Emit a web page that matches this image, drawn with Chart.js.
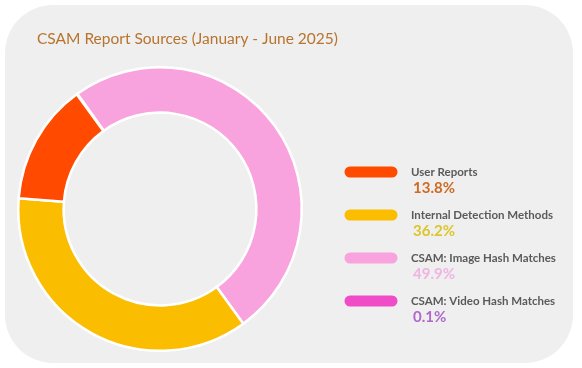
<!DOCTYPE html>
<html>
<head>
<meta charset="utf-8">
<script src="https://cdn.jsdelivr.net/npm/chart.js@4.4.1/dist/chart.umd.min.js"></script>
<style>
  html, body { margin: 0; padding: 0; background: #ffffff; }
  #wrap { position: relative; width: 582px; height: 368px; }
  #panel {
    position: absolute; left: 5px; top: 5px; width: 568px; height: 358px;
    background: #efefef; border-radius: 48px;
  }
  #box { position: absolute; left: 0; top: 0; width: 582px; height: 368px; }
</style>
</head>
<body>
<div id="wrap">
  <div id="panel"></div>
  <div id="box"><canvas id="donutCanvas"></canvas></div>
</div>
<script>
// chart data
const title = 'CSAM Report Sources (January - June 2025)';
const labels = ['User Reports', 'Internal Detection Methods', 'CSAM: Image Hash Matches', 'CSAM: Video Hash Matches'];
const shares = [13.8, 36.2, 49.9, 0.1];
const sliceColors = ['#ff4a00', '#fbbd00', '#f9a3de', '#f04cc8'];
const pctColors = ['#cf6a22', '#ddc52a', '#f0b3e2', '#b068cc'];

// slices run counter-clockwise in legend order, so feed them reversed
const revIdx = labels.map((_, i) => labels.length - 1 - i);

// legend + title drawn straight on the canvas
const sideLegend = {
  id: 'sideLegend',
  afterDraw: (chart) => {
    const {ctx} = chart;
    ctx.save();
    ctx.fillStyle = '#b8742e';
    ctx.font = '15.5px Lato, "Open Sans", sans-serif';
    ctx.textBaseline = 'alphabetic';
    ctx.textAlign = 'left';
    ctx.fillText(title, 37, 44);

    for (let i = 0; i < labels.length; i++) {
      const y = 172 + i * 43;
      // pill swatch
      ctx.fillStyle = sliceColors[i];
      ctx.beginPath();
      ctx.moveTo(350, y - 5.5);
      ctx.lineTo(392, y - 5.5);
      ctx.arc(392, y, 5.5, -Math.PI / 2, Math.PI / 2);
      ctx.lineTo(350, y + 5.5);
      ctx.arc(350, y, 5.5, Math.PI / 2, Math.PI * 1.5);
      ctx.closePath();
      ctx.fill();

      ctx.fillStyle = '#5a5a5a';
      ctx.font = 'bold 11.5px Lato, "Open Sans", sans-serif';
      ctx.textBaseline = 'middle';
      ctx.fillText(labels[i], 411, y);

      ctx.fillStyle = pctColors[i];
      ctx.font = 'bold 15px Lato, "Open Sans", sans-serif';
      ctx.fillText(shares[i].toFixed(1) + '%', 413, y + 16);
    }
    ctx.restore();
  }
};

const donut = document.getElementById('donutCanvas');
const config = {
  type: 'doughnut',
  data: {
    labels: revIdx.map(i => labels[i]),
    datasets: [{
      data: revIdx.map(i => shares[i]),
      backgroundColor: revIdx.map(i => sliceColors[i]),
      borderColor: '#ffffff',
      borderWidth: 2.5
    }]
  },
  plugins: [sideLegend],
  options: {
    responsive: true,
    maintainAspectRatio: false,
    animation: false,
    cutout: '68%',
    rotation: -36,
    layout: {
      padding: { left: 17, right: 279, top: 66, bottom: 16 }
    },
    plugins: {
      legend: { display: false },
      title: { display: false },
      tooltip: { enabled: false }
    }
  }
};

let myDonut = new Chart(donut, config);
</script>
</body>
</html>
